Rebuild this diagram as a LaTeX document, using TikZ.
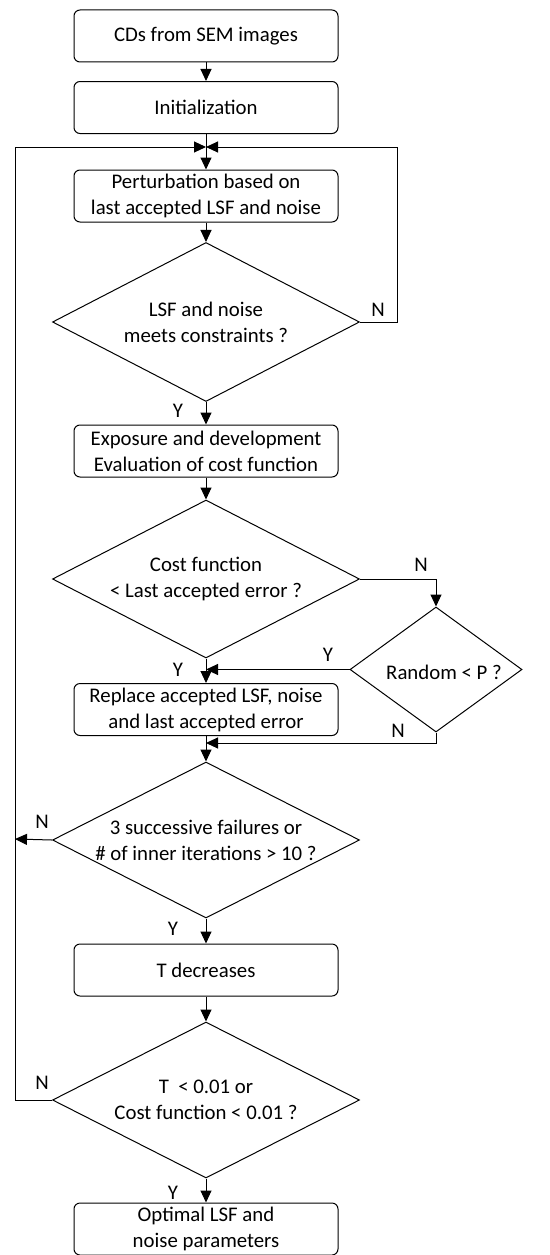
\documentclass[tikz,border=0pt]{standalone}
\usepackage{fontspec}
\setmainfont{Carlito}
\usetikzlibrary{shapes.geometric,arrows.meta}
\begin{document}
\begin{tikzpicture}[x=1pt,y=-1pt,
  every node/.style={font=\fontsize{20.8pt}{26pt}\selectfont},
  procbox/.style={draw,line width=1pt,rounded corners=6pt,minimum width=264pt,minimum height=52pt,inner sep=0pt,align=center},
  decision/.style={draw,line width=1pt,shape=diamond,inner sep=0pt},
  dtext/.style={align=center,inner sep=0pt},
  flow/.style={line width=1pt,-{Triangle[length=12pt,width=11pt]}},
  yn/.style={inner sep=0pt}]
\useasboundingbox (0,0) rectangle (549,1255);

% process boxes
\node[procbox] (b1) at (206,36) {CDs from SEM images};
\node[procbox] (b2) at (206,107.5) {Initialization};
\node[procbox] (b3) at (206,196) {Perturbation based on\\last accepted LSF and noise};
\node[procbox] (b4) at (206,451) {Exposure and development\\Evaluation of cost function};
\node[procbox] (b5) at (206,709.5) {Replace accepted LSF, noise\\and last accepted error};
\node[procbox] (b6) at (206,970) {T decreases};
\node[procbox] (b7) at (206,1229) {\raisebox{-5pt}{\begin{tabular}{@{}c@{}}Optimal LSF and\\[0pt]noise parameters\end{tabular}}};

% decisions
\node[decision,minimum width=307pt,minimum height=159pt,
  label={[dtext]center:{LSF and noise\\meets constraints ?}}] (d1) at (206,322) {};
\node[decision,minimum width=307pt,minimum height=158pt,
  label={[dtext]center:{Cost function\\< Last accepted error ?}}] (d2) at (206,579) {};
\node[decision,minimum width=172pt,minimum height=125pt,
  label={[dtext,xshift=8pt,yshift=-3pt]center:{Random < P ?}}] (d3) at (436,669.5) {};
\node[decision,minimum width=307pt,minimum height=156pt,
  label={[dtext]center:{3 successive failures or\\\# of inner iterations > 10 ?}}] (d4) at (206,840) {};
\node[decision,minimum width=307pt,minimum height=156pt,
  label={[dtext]center:{T\ \ < 0.01 or\\Cost function < 0.01 ?}}] (d5) at (206,1100) {};

% junction points
\coordinate (j1) at (206,147);
\coordinate (r1) at (397,147);
\coordinate (l1) at (15,147);
\coordinate (j3) at (206,743);
\coordinate (l4) at (15,839);

% main flow
\draw[flow] (b1) -- (b2);
\draw[flow] (b2) -- (b3);
\draw[flow] (b3) -- (d1);
\draw[flow] (d1) -- (b4);
\draw[flow] (b4) -- (d2);
\draw[flow] (d2) -- (b5);
\draw[flow] (b5) -- (d4);
\draw[flow] (d4) -- (b6);
\draw[flow] (b6) -- (d5);
\draw[flow] (d5) -- (b7);

% loops and branches
\draw[flow] (d1.east) -| (r1) -- (j1);
\draw[flow] (d5.west) -| (l1) -- (j1);
\draw[flow] (d2.east) -| (d3.north);
\draw[flow] (d3.west) -- (d3.west -| d2.south);
\draw[flow] (d3.south) |- (j3);
\draw[flow] (d4.west) -- (l4);

% branch labels
\node[yn] at (378,310) {N};
\node[yn] at (178,411) {Y};
\node[yn] at (421,565) {N};
\node[yn] at (328,655) {Y};
\node[yn] at (178,670) {Y};
\node[yn] at (398,731) {N};
\node[yn] at (42,822) {N};
\node[yn] at (173,929) {Y};
\node[yn] at (42,1083) {N};
\node[yn] at (173,1193) {Y};
\end{tikzpicture}
\end{document}
